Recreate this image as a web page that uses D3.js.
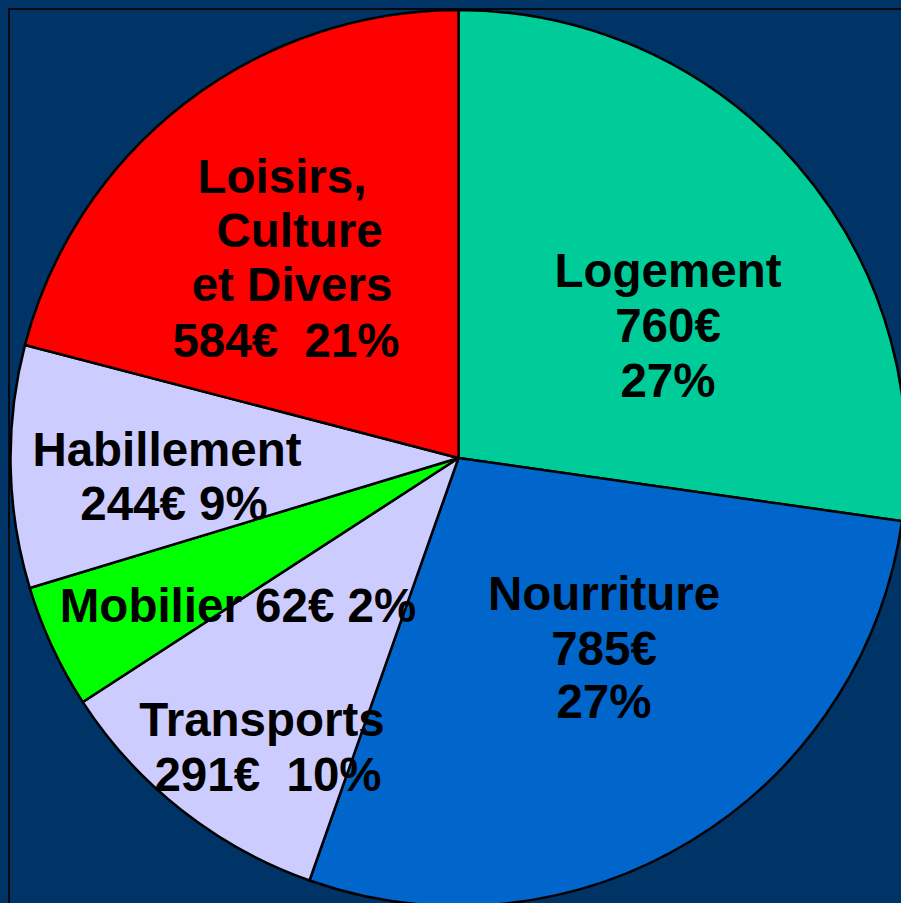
<!DOCTYPE html>
<html>
<head>
<meta charset="utf-8">
<script src="https://cdn.jsdelivr.net/npm/d3@7/dist/d3.min.js"></script>
<style>
  html, body { margin: 0; padding: 0; background: #003366; overflow: hidden; }
  svg { display: block; }
</style>
</head>
<body>
<svg id="chart" width="901" height="903"></svg>
<script>
// Categories in drawing order (clockwise from 12 o'clock)
const categories = ["Logement", "Nourriture", "Transports", "Mobilier", "Habillement", "Loisirs"];
// Slice sizes (angles)
const sliceValues = [760, 785, 291, 125, 244, 584];
// Amounts and percentages printed on the labels
const amounts = ["760€", "785€", "291€", "62€", "244€", "584€"];
const percents = ["27%", "27%", "10%", "2%", "9%", "21%"];
const colors = ["#00CC99", "#0066CC", "#CCCCFF", "#00FF00", "#CCCCFF", "#FF0000"];
// Label lines per slice
const labelLines = [
  ["Logement", "760€", "27%"],
  ["Nourriture", "785€", "27%"],
  ["Transports", "291€  10%"],
  ["Mobilier 62€ 2%"],
  ["Habillement", "244€ 9%"],
  ["Loisirs,", " Culture", "et Divers", "584€  21%"]
];
const titleText = "Total mensuel : 2 726 €";

const svg = d3.select("#chart");
const W = 901, H = 903;
const cx = 458.5, cy = 458, R = 448;
const FONT = "Liberation Sans, Arial, Helvetica, sans-serif";

svg.append("rect").attr("width", W).attr("height", H).attr("fill", "#003366");

// Title (cut off at the top of the frame, only its bottom edge visible)
svg.append("text")
  .attr("x", 482).attr("y", 0)
  .attr("text-anchor", "middle")
  .attr("font-family", FONT)
  .attr("font-weight", "bold")
  .attr("font-size", 44)
  .attr("fill", "#ffffff")
  .text(titleText);

// Frame
svg.append("rect")
  .attr("x", 9).attr("y", 9)
  .attr("width", W + 20).attr("height", H + 20)
  .attr("fill", "none")
  .attr("stroke", "#000814")
  .attr("stroke-width", 2);

const pie = d3.pie().sort(null).value(d => d).startAngle(0).endAngle(2 * Math.PI);
const arcs = pie(sliceValues);
const arc = d3.arc().innerRadius(0).outerRadius(R);

const g = svg.append("g").attr("transform", `translate(${cx},${cy})`);
g.selectAll("path")
  .data(arcs)
  .join("path")
  .attr("d", arc)
  .attr("fill", (d, i) => colors[i])
  .attr("stroke", "#000")
  .attr("stroke-width", 2.5)
  .attr("stroke-linejoin", "round");

// Label placement (per line: centre x, baseline y)
const labelPos = [
  [[668, 287], [668, 342], [668, 397]],
  [[604, 610], [604, 665], [604, 718]],
  [[262, 736], [268, 791]],
  [[238, 622]],
  [[167, 466], [174, 520]],
  [[282, 193], [293, 247], [292, 301], [286, 357]]
];

labelLines.forEach((lines, i) => {
  lines.forEach((t, j) => {
    svg.append("text")
      .attr("x", labelPos[i][j][0])
      .attr("y", labelPos[i][j][1])
      .attr("text-anchor", "middle")
      .attr("font-family", FONT)
      .attr("font-weight", "bold")
      .attr("font-size", 47.5)
      .attr("fill", "#000")
      .attr("xml:space", "preserve")
      .style("white-space", "pre")
      .text(t);
  });
});
</script>
</body>
</html>
